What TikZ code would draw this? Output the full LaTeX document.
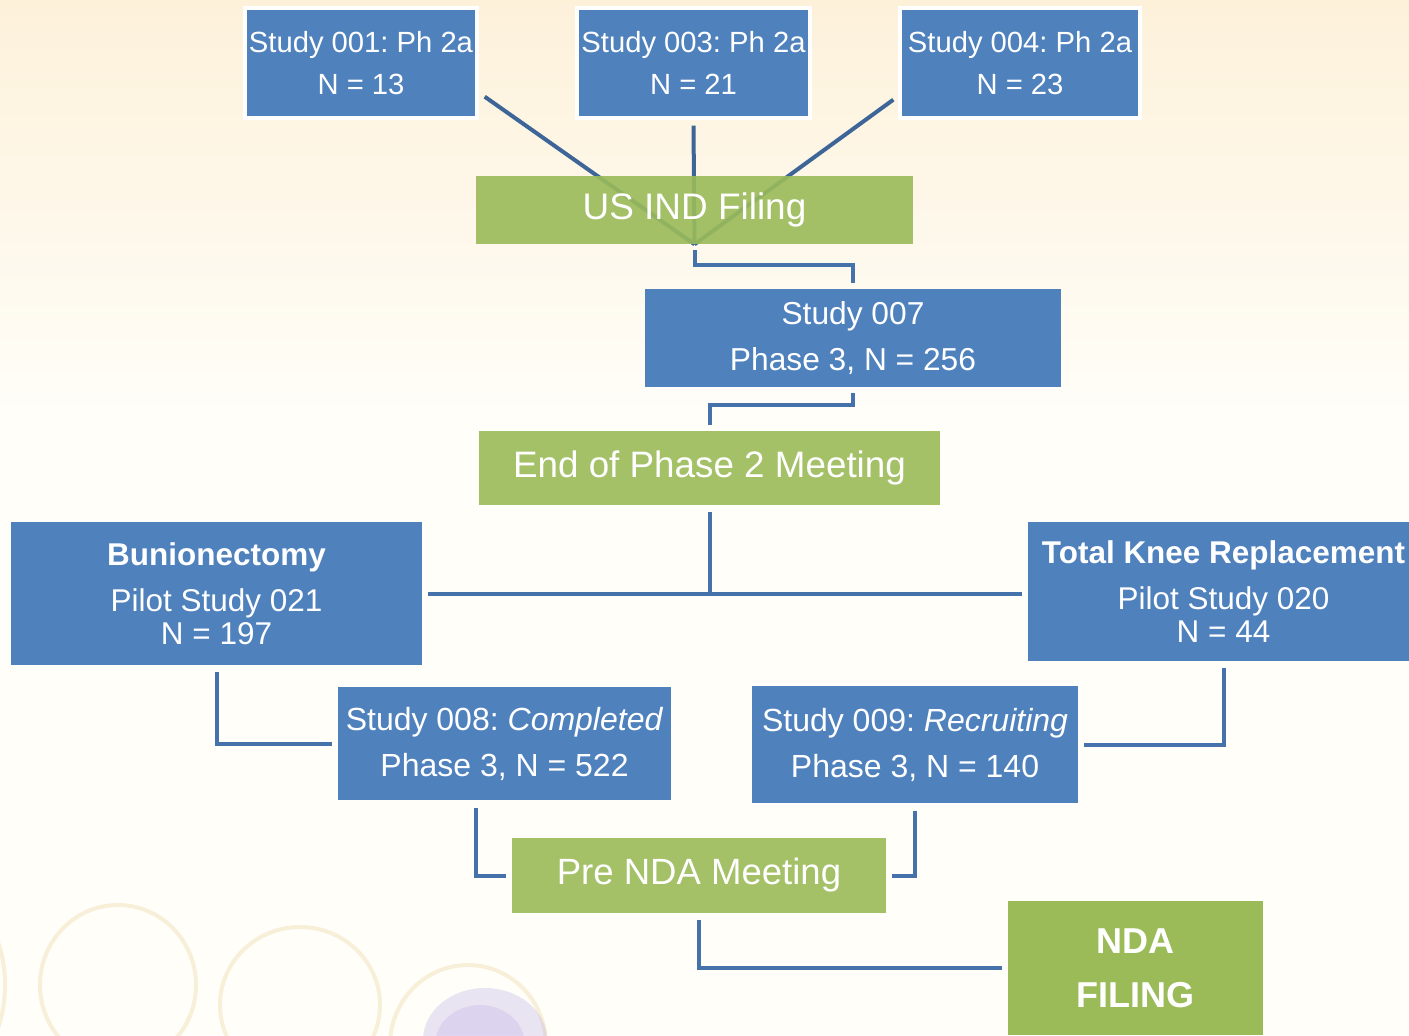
\documentclass[tikz,border=0pt]{standalone}
\usepackage{fontspec}
\setmainfont{Liberation Sans}
\frenchspacing
\usetikzlibrary{calc}
\definecolor{boxblue}{HTML}{4F81BD}
\definecolor{boxgreen}{HTML}{9BBB59}
\definecolor{linkblue}{HTML}{4672AC}
\definecolor{linkdark}{HTML}{3D6598}
\definecolor{bgtop}{HTML}{FDF1DA}
\definecolor{bgbot}{HTML}{FFFEF9}
\definecolor{ringtan}{HTML}{EED9A8}
\definecolor{lavender}{HTML}{A998E0}
\pgfdeclarelayer{bg}
\pgfdeclarelayer{lines}
\pgfsetlayers{bg,lines,main}
\tikzset{
  bluebox/.style={fill=boxblue, text=white, inner sep=0pt, align=center},
  topbox/.style={bluebox, draw=white, line width=2.5pt, minimum height=82.5pt,
    font={\fontsize{21.9}{32}\selectfont}},
  greenbox/.style={fill=boxgreen, fill opacity=0.9, text opacity=1, text=white, inner sep=0pt, align=center},
  link/.style={draw=linkblue, line width=3pt},
  diag/.style={draw=linkdark, line width=3pt},
  ring/.style={draw=ringtan, line width=3pt, opacity=0.4},
}
\begin{document}
\begin{tikzpicture}[x=0.75pt,y=-0.75pt]
\useasboundingbox (0,0) rectangle (1409,1035);
\clip (0,0) rectangle (1409,1035);
\begin{pgfonlayer}{bg}
  \fill[bgbot] (0,0) rectangle (1409,1035);
  \shade[top color=bgtop, bottom color=bgbot] (0,0) rectangle (1409,420);
  \draw[ring] (118,985) ellipse [x radius=78, y radius=80];
  \draw[ring] (300,1005) ellipse [x radius=80, y radius=78];
  \draw[ring] (468,1045) ellipse [x radius=78, y radius=80];
  \draw[ring] (-40,985) ellipse [x radius=45, y radius=80];
  \fill[lavender, opacity=0.25] (485,1040) ellipse [x radius=62, y radius=52];
  \fill[lavender, opacity=0.2] (480,1045) ellipse [x radius=45, y radius=40];
\end{pgfonlayer}

% top row
\node[topbox, minimum width=174pt] (s001) at (361,63) {Study 001: Ph 2a\\ N = 13};
\node[topbox, minimum width=174.75pt] (s003) at (693.5,63) {Study 003: Ph 2a\\ N = 21};
\node[topbox, minimum width=180pt] (s004) at (1020,63) {Study 004: Ph 2a\\ N = 23};

\node[greenbox, minimum width=327.75pt, minimum height=51pt,
  font={\fontsize{27.7}{32}\selectfont}] (usind) at (694.5,210) {US IND Filing};

\begin{pgfonlayer}{lines}
  \draw[diag] ([shift={(4.5pt,17.25pt)}]s001.south east) -- (usind.south);
  \draw[diag] ([yshift=-4.5pt]s003.south) -- (usind.south);
  \draw[diag] ([shift={(-3.75pt,15pt)}]s004.south west) -- (usind.south);
\end{pgfonlayer}

\node[bluebox, minimum width=312pt, minimum height=73.5pt,
  font={\fontsize{23.8}{34.5}\selectfont}] (s007) at (853,338)
  {Study 007\\ Phase 3, N = 256};

\node[greenbox, minimum width=345.75pt, minimum height=55.5pt,
  font={\fontsize{27.6}{32}\selectfont}] (ep2) at (709.5,468) {End of Phase 2 Meeting};

\node[bluebox, minimum width=308.25pt, minimum height=107.25pt,
  font={\fontsize{23.6}{24.75}\selectfont}] (bunion) at (216.5,593.5)
  {\textbf{Bunionectomy}\\[9.75pt] Pilot Study 021\\ N = 197};

\node[bluebox, minimum width=293.25pt, minimum height=104.25pt,
  font={\fontsize{23.6}{24.75}\selectfont}] (tkr) at (1223.5,591.5)
  {\textbf{Total Knee Replacement}\\[9.75pt] Pilot Study 020\\ N = 44};

\node[bluebox, minimum width=249.75pt, minimum height=84.75pt,
  font={\fontsize{24}{34.5}\selectfont}] (s008) at (504.5,743.5)
  {Study 008: \textit{Completed}\\ Phase 3, N = 522};

\node[bluebox, minimum width=244.5pt, minimum height=87.75pt,
  font={\fontsize{24}{34.5}\selectfont}] (s009) at (915,744.5)
  {Study 009: \textit{Recruiting}\\ Phase 3, N = 140};

\node[greenbox, minimum width=280.5pt, minimum height=56.25pt,
  font={\fontsize{27.4}{32}\selectfont}] (prenda) at (699,875.5) {Pre NDA Meeting};

\node[greenbox, fill opacity=1, minimum width=191.25pt, minimum height=100.5pt,
  font={\fontsize{27}{40.5}\selectfont\bfseries}] (nda) at (1135.5,968) {NDA\\ FILING};

% connectors
\draw[link] ([yshift=-4.5pt]usind.south) -- ++(0,15) -| ([yshift=4.5pt]s007.north);
\draw[link] ([yshift=-4.5pt]s007.south) -- ++(0,12) -| ([yshift=4.5pt]ep2.north);
\coordinate (split) at (ep2.south |- bunion.east);
\draw[link] ([yshift=-5pt]ep2.south) |- ([xshift=4.5pt]bunion.east);
\draw[link] (split) -- ([xshift=-4.5pt]split -| tkr.west);
\draw[link] ([yshift=-5pt]bunion.south) |- ([xshift=-4.5pt]s008.west);
\draw[link] ([yshift=-5pt]tkr.south) |- ([xshift=4.5pt]s009.east);
\draw[link] ([shift={(-21.4pt,-6pt)}]s008.south) |- ([xshift=-4pt]prenda.west);
\draw[link] ([yshift=-6pt]s009.south) |- ([xshift=4.5pt]prenda.east);
\draw[link] ([yshift=-5pt]prenda.south) |- ([xshift=-4.5pt]nda.west);
\end{tikzpicture}
\end{document}
